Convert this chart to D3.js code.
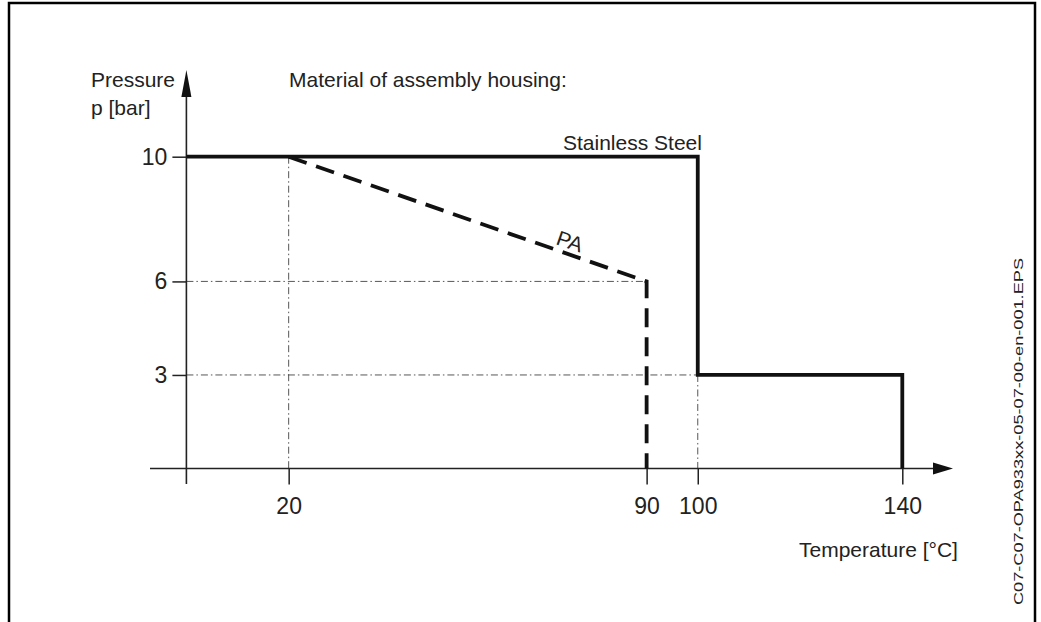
<!DOCTYPE html>
<html>
<head>
<meta charset="utf-8">
<script src="https://cdn.jsdelivr.net/npm/d3@7"></script>
<style>
  html, body { margin: 0; padding: 0; background: #fff; }
  svg text { font-family: "Liberation Sans Narrow", "Arial Narrow", "Liberation Sans", sans-serif; fill: #222; }
</style>
</head>
<body>
<svg id="chart" width="1041" height="622"></svg>
<script>
// ---- data ----
const xTicks = [20, 90, 100, 140];
const yTicks = [3, 6, 10];
const steelTemp = [0, 100, 100, 140, 140];
const steelPressure = [10, 10, 3, 3, 0];
const paTemp = [20, 90, 90];
const paPressure = [10, 6, 0];
// reference (dash-dot) guide lines: [temp1, p1, temp2, p2]
const guideTemp1 = [0, 0, 20, 100];
const guideP1 = [6, 3, 10, 3];
const guideTemp2 = [90, 100, 20, 100];
const guideP2 = [6, 3, 0, 0];

const svg = d3.select("#chart");

// frame
svg.append("rect").attr("x", 9).attr("y", 3).attr("width", 1026).attr("height", 640)
  .attr("fill", "none").attr("stroke", "#000").attr("stroke-width", 2.5);

const x = d3.scaleLinear().domain([0, 140]).range([186.4, 902.3]);
const y = d3.scaleLinear().domain([0, 10]).range([468.5, 156.7]);

// guide lines
const g = svg.append("g");
guideTemp1.forEach((t, i) => {
  g.append("line")
    .attr("x1", x(t)).attr("y1", y(guideP1[i]))
    .attr("x2", x(guideTemp2[i])).attr("y2", y(guideP2[i]))
    .attr("stroke", "#444").attr("stroke-width", 0.9)
    .attr("stroke-dasharray", "7,3,1.5,3");
});

// axes ticks/labels
const xa = svg.append("g").attr("transform", `translate(0,${y(0)})`)
  .call(d3.axisBottom(x).tickValues(xTicks).tickSize(16).tickPadding(13));
xa.select(".domain").remove();
xa.selectAll(".tick line").attr("stroke", "#222").attr("stroke-width", 1.5);
xa.selectAll(".tick text").attr("font-size", 23);

const ya = svg.append("g").attr("transform", `translate(${x(0)},0)`)
  .call(d3.axisLeft(y).tickValues(yTicks).tickSize(14).tickPadding(5));
ya.select(".domain").remove();
ya.selectAll(".tick line").attr("stroke", "#222").attr("stroke-width", 1.5);
ya.selectAll(".tick text").attr("font-size", 23);
svg.selectAll(".tick text").attr("fill", "#222").attr("font-family", null);

// axis lines with arrows
svg.append("line").attr("x1", 150).attr("y1", y(0)).attr("x2", 940).attr("y2", y(0))
  .attr("stroke", "#222").attr("stroke-width", 1.6);
svg.append("path").attr("d", `M933,${y(0) - 6}L953,${y(0)}L933,${y(0) + 6}Z`).attr("fill", "#111");
svg.append("line").attr("x1", x(0)).attr("y1", 484).attr("x2", x(0)).attr("y2", 85)
  .attr("stroke", "#222").attr("stroke-width", 1.6);
svg.append("path").attr("d", `M${x(0) - 5},97L${x(0)},70L${x(0) + 5},97Z`).attr("fill", "#111");

// series
const line = d3.line().x(d => x(d[0])).y(d => y(d[1]));
svg.append("path").datum(steelTemp.map((t, i) => [t, steelPressure[i]]))
  .attr("d", line).attr("fill", "none").attr("stroke", "#111").attr("stroke-width", 3.8)
  .attr("stroke-linejoin", "miter");
svg.append("path").datum(paTemp.map((t, i) => [t, paPressure[i]]))
  .attr("d", line).attr("fill", "none").attr("stroke", "#111").attr("stroke-width", 3.8)
  .attr("stroke-dasharray", "19,10");

// texts
const t = (txt, tx, ty, size, anchor) => svg.append("text").attr("x", tx).attr("y", ty)
  .attr("font-size", size).attr("text-anchor", anchor || "start").text(txt);
t("Pressure", 91, 87, 21);
t("p [bar]", 91, 115, 21);
t("Material of assembly housing:", 289, 87, 21);
t("Stainless Steel", 563, 150, 21);
t("Temperature [°C]", 799, 557, 21);
svg.append("text").attr("transform", "translate(555,244) rotate(19)")
  .attr("font-size", 21).text("PA");
svg.append("text").attr("transform", "translate(1023,605) rotate(-90)")
  .attr("font-size", 12).style("font-family", "'Liberation Sans', Arial, sans-serif")
  .attr("textLength", 347).attr("lengthAdjust", "spacingAndGlyphs")
  .text("C07-C07-OPA933xx-05-07-00-en-001.EPS");
</script>
</body>
</html>
